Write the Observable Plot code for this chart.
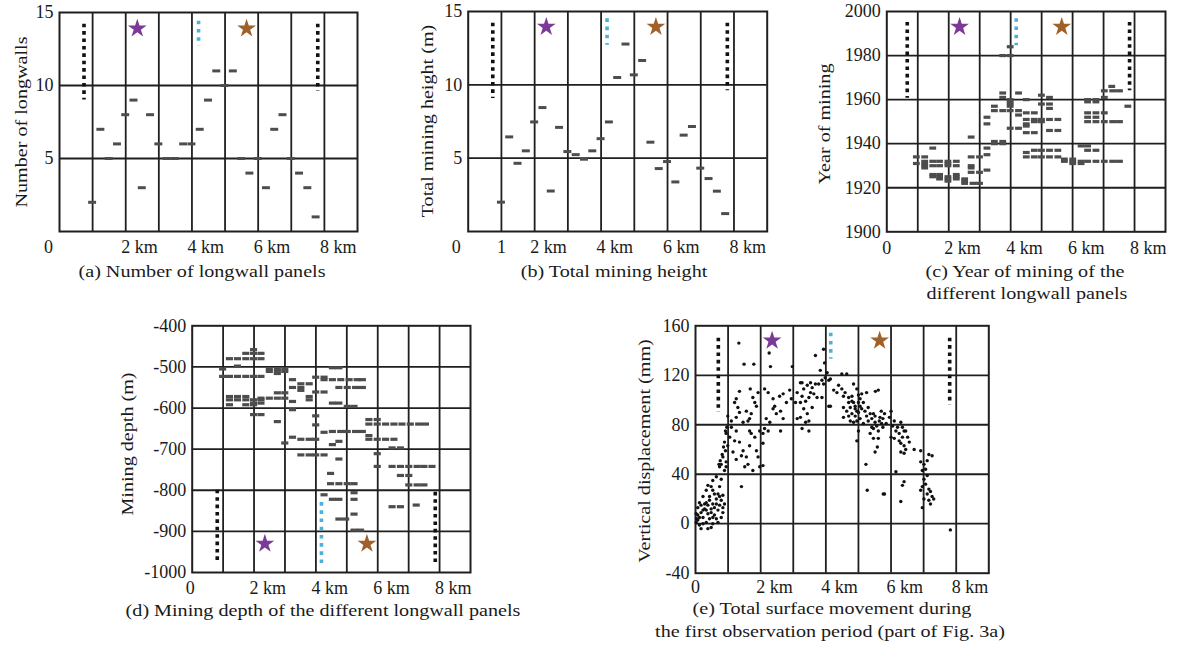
<!DOCTYPE html>
<html><head><meta charset="utf-8">
<script src="https://cdn.jsdelivr.net/npm/d3@7"></script>
<script src="https://cdn.jsdelivr.net/npm/@observablehq/plot@0.6"></script>
<style>
html,body{margin:0;padding:0;background:#fff;}
#root{position:relative;width:1179px;height:648px;overflow:hidden;background:#fff;font-family:"Liberation Serif","Times New Roman",serif;}
.cap{position:absolute;font-size:17.5px;color:#1a1a1a;white-space:nowrap;transform:translate(-50%,-50%) scaleX(1.15);line-height:1;}
.ylab{position:absolute;font-size:17.5px;color:#1a1a1a;white-space:nowrap;transform:translate(-50%,-50%) rotate(-90deg) scaleX(1.15);line-height:1;}
svg{position:absolute;}
</style></head><body><div id="root"></div>
<script>
// ---------- DATA ----------
const kmTicks = [2, 4, 6, 8];
const gridKm = [1, 2, 3, 4, 5, 6, 7, 8];

// panels (a) and (b): position of each longwall panel along the profile (km)
const panelKm = [1.0,1.25,1.5,1.75,2.0,2.25,2.5,2.75,3.0,3.25,3.5,3.75,4.0,4.25,4.5,4.75,5.0,5.25,5.5,5.75,6.0,6.25,6.5,6.75,7.0,7.25,7.5,7.75];
const longwallCount = [2,7,5,6,8,9,3,8,6,5,5,6,6,7,9,11,10,11,5,4,5,3,7,8,5,4,3,1];
const miningHeight = [2.0,6.45,4.65,5.5,7.47,8.45,2.76,7.1,5.45,5.24,4.93,5.5,6.33,7.47,10.5,12.78,10.68,11.66,6.09,4.29,4.77,3.38,6.57,7.16,4.32,3.61,2.75,1.22];

// panel (c): year of mining of each longwall panel
const yearRows = [
 [1984,[4.0]],[1980,[3.76,4.0]],[1966,[7.28]],[1964,[7.04,7.31,7.53]],[1963,[3.76,4.27]],[1962,[5.01]],
 [1961,[3.76,5.27,7.04]],[1960,[4.0,4.52,6.5,6.77]],[1959,[4.0,6.5,6.77]],[1958,[4.0,5.01,5.27]],
 [1957,[3.49,4.0,7.8]],[1956,[5.27]],[1955,[3.49,3.76,4.0,4.27]],[1954,[4.52,4.78,6.5,6.77,7.04]],
 [1953,[4.27]],[1952,[3.25,6.5,6.77]],[1951,[4.52,4.78,5.01,5.27,5.54]],[1950,[4.78,5.01,6.5,6.77,7.04,7.31,7.53]],
 [1949,[3.25,4.52]],[1948,[4.52]],[1947,[4.0,4.27]],[1946,[5.27,5.54]],[1945,[4.52,4.78]],[1943,[2.74]],
 [1941,[3.49,3.76]],[1940,[3.49,3.76]],[1939,[6.29,6.5]],[1938,[1.5,3.25]],[1937,[4.78,5.01,5.27,5.54,6.5,6.77]],
 [1936,[4.52]],[1935,[3.25]],[1934,[0.97,1.24,2.74,3.01,4.52,4.78,5.01,5.27,5.54]],[1933,[5.75,6.02]],
 [1932,[1.24,1.5,1.72,1.99,2.26,5.75,6.02,6.29,6.5,6.77,7.04,7.31,7.53]],[1931,[0.97,1.24,1.99,6.02,6.29]],
 [1930,[1.24,1.5,1.72,1.99,2.26,2.74]],[1929,[1.24,2.74]],[1928,[3.25]],[1927,[2.74,3.01]],[1926,[1.5,1.72,2.26]],
 [1925,[1.5,1.72,1.99,2.26]],[1924,[1.72,1.99,2.26,2.53]],[1923,[1.99,2.53]],[1922,[2.53,2.8,3.01]]
];

// panel (d): mining depth of each longwall panel (m)
const depthRows = [
 [-458,[2.0]],[-467,[1.75,2.0,2.24]],[-480,[1.22,1.48,1.75,2.0,2.24]],[-498,[1.48]],[-502,[4.55,4.76]],
 [-505,[1.0,2.51,2.77,3.01]],[-511,[2.51,2.77,3.01]],[-516,[2.77]],[-523,[1.0,1.22,1.48,1.75,2.0,2.24]],
 [-525,[4.01,4.28]],[-531,[3.26,4.28,4.55,4.82,5.09,5.35,5.52]],[-541,[3.53,3.8]],[-550,[3.26,3.53,4.76,5.03,5.3,5.52]],
 [-557,[3.53]],[-561,[4.01,4.28]],[-563,[2.77,3.01]],[-572,[1.22,1.48,1.75,3.8]],[-576,[2.24,2.51,2.77,3.01]],
 [-580,[1.22,1.48,1.75,2.0,2.24,3.8]],[-584,[3.26]],[-588,[2.0,2.24,4.55,4.76]],[-592,[1.22,1.75,2.0]],
 [-596,[5.03,5.25]],[-604,[3.26]],[-616,[2.0,2.24]],[-619,[4.01]],[-628,[5.73,6.0]],[-633,[2.77]],
 [-639,[5.73,6.0,6.27,6.54,6.8,7.07,7.34,7.56]],[-641,[4.01]],[-657,[4.55,4.82,5.03,5.3,5.52]],[-659,[4.28]],
 [-667,[5.73]],[-671,[3.26]],[-676,[3.53,3.8,4.01,5.73,6.0,6.27,6.54]],[-681,[4.76]],[-685,[3.01]],[-689,[4.55]],
 [-697,[6.48,6.75]],[-711,[6.0]],[-714,[3.53,3.8,4.01,4.28]],[-724,[4.76]],[-742,[6.0,6.48,6.75,7.02,7.29,7.51,7.77]],
 [-759,[4.49]],[-764,[6.75,7.02]],[-784,[4.49,4.76,5.03,5.25]],[-787,[7.02,7.29,7.51]],[-806,[5.25]],[-811,[4.28]],
 [-822,[4.55,4.76,5.25]],[-836,[7.26]],[-840,[6.48,6.75]],[-858,[5.25]],[-870,[4.76,4.98]],[-897,[5.25,5.46]]
];

// panel (e): surface points [km, vertical displacement mm]
const surfacePoints = [
 [1.33,146],[1.49,129],[1.79,129],[2.30,127],[2.26,138],
 [1.35,107],[1.68,109],[1.92,106],[1.25,101],[1.20,98],[1.76,102],[1.82,98],[1.30,94],[1.35,90],[1.56,91],[1.71,89],[1.87,95],[1.66,85],[1.25,86],[1.46,82],[0.99,87],[1.10,83],
 [2.23,106],[2.12,109],[2.38,101],[2.58,103],[2.69,105],[2.79,98],[2.43,95],[2.61,91],[2.38,93],[2.48,89],[2.69,85],[2.17,85],[2.28,82],[2.89,108],[2.94,101],[1.61,83],[2.97,127],
 [1.10,78],[1.25,75],[0.94,73],[1.05,70],[0.89,66],[0.99,63],[0.92,59],[0.84,54],[0.94,50],[0.79,48],[0.74,46],[0.89,43],[0.94,46],[1.20,67],[1.35,66],[1.46,59],[1.56,54],[1.61,48],[1.51,46],[1.41,55],[1.71,73],[1.82,70],[1.66,63],[1.97,75],[2.07,73],[1.87,59],[1.92,54],[2.07,65],[2.12,77],[1.76,43],[1.97,46],[2.07,47],[1.15,58],[1.25,52],[1.66,75],[2.23,75],[2.61,75],
 [0.96,78],[0.92,75],[0.86,62],[0.82,56],[0.76,51],[0.72,48],
 [1.41,30],[0.64,38],[0.53,35],[0.38,31],[0.79,36],[0.74,30],[0.33,27],[0.53,27],[0.69,24],[0.84,23],[0.23,22],[0.43,22],[0.64,20],[0.79,19],[0.12,17],[0.33,17],[0.53,16],[0.74,15],[0.89,16],[0.07,13],[0.28,12],[0.48,12],[0.69,11],[0.84,9],[0.17,9],[0.38,8],[0.58,7],[0.02,8],[0.23,5],[0.43,4],[0.64,4],[0.79,5],[0.07,3],[0.33,1],[0.53,0],[0.12,-1],[0.48,-3],[0.69,1],[0.38,-4],[0.17,-4],
 [0.43,19],[0.28,16],[0.58,13],[0.48,9],[0.33,11],[0.12,5],[0.64,16],[0.58,24],[0.48,30],[0.38,15],[0.23,11],[0.02,1],[0.03,4],[0.74,22],[0.84,13],[0.23,0],[0.07,7],[0.53,5],[0.17,15],
 [3.68,136],[3.93,141],[3.96,130],[3.83,124],[4.04,122],[3.98,118],[4.09,116],[3.88,116],[3.93,113],[3.78,113],[4.14,117],[3.68,113],[3.53,114],[3.58,110],[3.43,112],[3.32,109],[3.22,114],[3.12,106],[3.27,103],[3.38,99],[3.48,102],[3.63,105],[3.73,102],[3.88,102],[3.53,106],[3.22,98],[3.07,98],[3.32,93],[3.43,89],[3.22,86],[3.12,85],[3.48,83],[3.38,82],[3.27,77],[3.48,75],[3.58,94],[4.09,95],[4.14,95],[3.27,114],
 [4.49,121],[4.64,121],[4.39,112],[4.24,108],[4.34,106],[4.49,109],[4.59,106],[4.70,102],[4.80,99],[4.54,103],[4.85,113],[4.95,109],[5.05,101],[5.00,98],[4.90,95],[4.75,94],[4.64,91],[4.54,86],[4.70,87],[4.80,89],[4.95,91],[5.10,93],[5.20,91],[5.25,87],[5.36,89],[5.05,85],[4.95,83],[5.15,81],[5.30,83],[5.41,78],[5.51,82],[5.56,79],[5.61,75],[5.66,86],[5.46,89],[5.25,106],[5.61,108],[5.36,73],[5.46,69],[5.61,69],[5.51,58],[5.58,62],[5.00,75],[4.95,67],[5.23,48],[5.27,27],[5.76,24],[5.00,104],[5.10,105],[5.15,98],[5.30,94],[4.54,94],[4.75,83],[4.90,87],
 [4.85,98],[4.90,93],[5.00,90],[5.05,95],[4.80,103],[4.70,98],[4.85,82],[5.41,85],[5.51,87],[5.46,77],[5.71,81],[5.64,83],[5.52,107],
 [5.70,91],[5.80,89],[5.75,85],[5.85,81],[5.75,78],[6.00,91],[5.95,86],[6.10,83],[6.05,79],[6.20,78],[6.30,82],[6.35,78],[6.40,75],[6.15,75],[6.25,73],[6.00,70],[6.10,69],[6.25,67],[6.35,70],[6.45,75],[6.51,70],[6.56,66],[6.40,63],[6.30,65],[6.45,60],[6.30,58],[6.40,57],[6.71,60],[6.91,59],[7.16,56],[7.26,55],[7.11,51],[7.01,48],[6.91,50],[7.06,44],[6.96,43],[6.15,42],[7.11,39],[7.01,36],[7.06,32],[6.96,30],[7.16,28],[6.91,27],[7.11,24],[7.21,26],[7.26,22],[7.16,19],[7.31,20],[7.21,16],[7.01,20],[6.35,31],[6.40,34],[5.80,24],[6.30,18],[6.96,13],[7.82,-5]
];

// reference markers: black dotted lines, blue dotted line, stars (purple, brown)
const starKm = [2.35, 5.65];
const starColors = ["#7b3a97", "#a0602a"];
const blackA = [{x:0.74,top:14.2,bot:9.0},{x:7.8,top:14.2,bot:9.6}];
const blueA = [{x:4.2,top:14.4,bot:12.7}];
const blackB = [{x:0.74,top:14.2,bot:9.06},{x:7.8,top:14.2,bot:9.6}];
const blueB = [{x:4.18,top:14.5,bot:12.7}];
const blackC = [{x:0.66,top:1995,bot:1960.6},{x:7.84,top:1995,bot:1964}];
const blueC = [{x:4.18,top:1996.7,bot:1984.5}];
const blackD = [{x:0.81,top:-800,bot:-975},{x:7.86,top:-805,bot:-985}];
const blueD = [{x:4.18,top:-830,bot:-988}];
const blackE = [{x:0.70,top:150,bot:90},{x:7.8,top:150,bot:96}];
const blueE = [{x:4.15,top:154,bot:133}];

// ---------- DRAWING ----------
const root = document.getElementById("root");
const INK = "#1f1f1f";
const DASH = "#4d4d4d";

function markers(black, blue, starY) {
  return [
    Plot.ruleX(black, {x: "x", y1: "top", y2: "bot", stroke: "#111", strokeWidth: 3.6, strokeDasharray: "3.6,3.8"}),
    Plot.ruleX(blue, {x: "x", y1: "top", y2: "bot", stroke: "#4cb1da", strokeWidth: 3.6, strokeDasharray: "3.6,4.6"}),
    Plot.dot([starKm[0]], {x: d => d, y: () => starY, symbol: "star", r: 5.9, fill: starColors[0], stroke: "none"}),
    Plot.dot([starKm[1]], {x: d => d, y: () => starY, symbol: "star", r: 5.9, fill: starColors[1], stroke: "none"})
  ];
}

function dashes(rows, half, sw) {
  const data = rows.flatMap(([v, xs]) => xs.map(x => ({x, v})));
  return Plot.ruleY(data, {y: "v", x1: d => d.x - half, x2: d => d.x + half, stroke: DASH, strokeWidth: sw});
}

function addText(cls, text, cx, cy) {
  const d = document.createElement("div");
  d.className = cls;
  d.textContent = text;
  d.style.left = cx + "px";
  d.style.top = cy + "px";
  root.appendChild(d);
}

function panel(cfg) {
  const {left, top, width, height, L, R, T, B, yDomain, yTicks, yGrid, yLabel, yLabelX, yLabelY, zeroDx, extraX, pad = 9, marks} = cfg;
  const svg = Plot.plot({
    width, height,
    marginLeft: L - left, marginRight: left + width - R,
    marginTop: T - top, marginBottom: top + height - B,
    x: {domain: [0, 9]},
    y: {domain: yDomain},
    style: {fontFamily: "'Liberation Serif','Times New Roman',serif", fontSize: "18px", color: "#1a1a1a", background: "transparent", overflow: "visible"},
    marks: [
      Plot.ruleX(gridKm, {stroke: INK, strokeWidth: 1.8}),
      Plot.ruleY(yGrid, {stroke: INK, strokeWidth: 1.8}),
      Plot.frame({stroke: INK, strokeWidth: 2}),
      Plot.axisY({ticks: yTicks, tickSize: 0, tickPadding: 6, tickFormat: d => String(d), label: null}),
      Plot.axisX({ticks: kmTicks, tickSize: 0, tickPadding: pad, tickFormat: d => d + " km", textAnchor: "start", dx: -4.5, label: null}),
      Plot.axisX({ticks: [0], tickSize: 0, tickPadding: pad, tickFormat: () => "0", dx: zeroDx, label: null}),
      ...(extraX ? [Plot.axisX({ticks: extraX, tickSize: 0, tickPadding: pad, tickFormat: d => String(d), label: null})] : []),
      ...marks
    ]
  });
  svg.style.left = left + "px";
  svg.style.top = top + "px";
  root.appendChild(svg);
  addText("ylab", yLabel, yLabelX, yLabelY);
}

// (a)
panel({left: 0, top: 0, width: 380, height: 262, L: 59, R: 357, T: 12, B: 231,
  yDomain: [0, 15], yTicks: [5, 10, 15], yGrid: [5, 10], yLabel: "Number of longwalls", yLabelX: 22, yLabelY: 122, zeroDx: -11,
  marks: [
    Plot.ruleY(panelKm.map((x, i) => ({x, v: longwallCount[i]})), {y: "v", x1: d => d.x - 0.12, x2: d => d.x + 0.12, stroke: DASH, strokeWidth: 3}),
    ...markers(blackA, blueA, 13.9)
  ]});

// (b)
panel({left: 400, top: 0, width: 380, height: 262, L: 467.7, R: 766.7, T: 11, B: 231,
  yDomain: [0, 15], yTicks: [5, 10, 15], yGrid: [5, 10], yLabel: "Total mining height (m)", yLabelX: 428, yLabelY: 121, zeroDx: -12, extraX: [1],
  marks: [
    Plot.ruleY(panelKm.map((x, i) => ({x, v: miningHeight[i]})), {y: "v", x1: d => d.x - 0.12, x2: d => d.x + 0.12, stroke: DASH, strokeWidth: 3}),
    ...markers(blackB, blueB, 13.95)
  ]});

// (c)
panel({left: 790, top: 0, width: 389, height: 262, L: 886.3, R: 1165, T: 11, B: 231.3,
  yDomain: [1900, 2000], yTicks: [1900, 1920, 1940, 1960, 1980, 2000], yGrid: [1920, 1940, 1960, 1980], yLabel: "Year of mining", yLabelX: 825, yLabelY: 124, zeroDx: 0,
  marks: [dashes(yearRows, 0.11, 3.2), ...markers(blackC, blueC, 1993)]});

// (d)
panel({left: 100, top: 310, width: 390, height: 290, L: 191.7, R: 470, T: 325.3, B: 572,
  yDomain: [-1000, -400], yTicks: [-1000, -900, -800, -700, -600, -500, -400], yGrid: [-900, -800, -700, -600, -500], yLabel: "Mining depth (m)", yLabelX: 128, yLabelY: 444, zeroDx: -2,
  marks: [dashes(depthRows, 0.115, 3.2), ...markers(blackD, blueD, -930)]});

// (e)
panel({left: 600, top: 310, width: 400, height: 290, L: 695, R: 988.3, T: 325.3, B: 572.7, pad: 7,
  yDomain: [-40, 160], yTicks: [-40, 0, 40, 80, 120, 160], yGrid: [0, 40, 80, 120], yLabel: "Vertical displacement (mm)", yLabelX: 645, yLabelY: 451, zeroDx: 0,
  marks: [Plot.dot(surfacePoints, {x: d => d[0], y: d => d[1], r: 1.7, fill: "#111", stroke: "none"}), ...markers(blackE, blueE, 148)]});

addText("cap", "(a) Number of longwall panels", 202, 272);
addText("cap", "(b) Total mining height", 614, 272);
addText("cap", "(c) Year of mining of the", 1025, 272);
addText("cap", "different longwall panels", 1027, 294);
addText("cap", "(d) Mining depth of the different longwall panels", 323, 611);
addText("cap", "(e) Total surface movement during", 832, 609);
addText("cap", "the first observation period (part of Fig. 3a)", 830, 632);
</script></body></html>
